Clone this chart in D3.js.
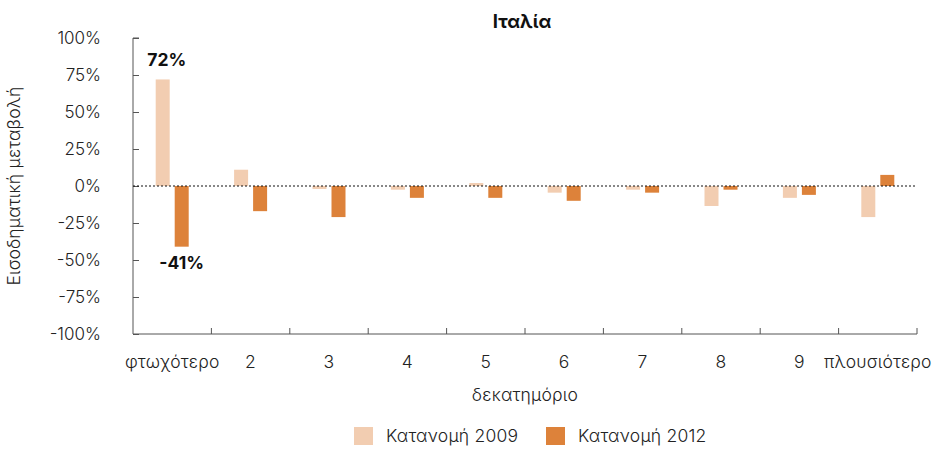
<!DOCTYPE html>
<html>
<head>
<meta charset="utf-8">
<script src="https://cdn.jsdelivr.net/npm/d3@7"></script>
<style>
  body { margin: 0; background: #fff; }
  svg text { font-family: "Inter", "Noto Sans", sans-serif; }
</style>
</head>
<body>
<svg id="chart" width="935" height="450"></svg>
<script>
// Income change by decile, Italy
const categories = ["φτωχότερο", "2", "3", "4", "5", "6", "7", "8", "9", "πλουσιότερο"];
const seriesNames = ["Κατανομή 2009", "Κατανομή 2012"];
const values2009 = [72, 11, -2, -2.5, 2, -4.5, -2.5, -13.5, -8, -21];
const values2012 = [-41, -17, -21, -8, -8, -10, -4.5, -2.5, -6, 7.5];
const yTicks = [-100, -75, -50, -25, 0, 25, 50, 75, 100];
const colors = ["#F2CDB1", "#DD823A"];
const labelled = [{ series: 0, index: 0 }, { series: 1, index: 0 }];

const svg = d3.select("#chart");
const margin = { left: 133, right: 18, top: 38, bottom: 116 };
const W = 935, H = 450;
const textColor = "#222";
const fontSize = 17.5;
const spacing = "0.2px";

const x = d3.scaleBand().domain(categories).range([margin.left, W - margin.right]).padding(0);
const y = d3.scaleLinear().domain([-100, 100]).range([H - margin.bottom, margin.top]);

const barW = 14, gap = 5;
const series = [values2009, values2012];

// Axes
const axisColor = "#555";
const yAxis = svg.append("g")
  .attr("transform", `translate(${margin.left},0)`)
  .call(d3.axisRight(y).tickValues(yTicks).tickSize(6).tickFormat(""));
yAxis.select(".domain").attr("stroke", axisColor).attr("d", `M6,${y(100)}H0V${y(-100)}`);
yAxis.selectAll(".tick line").attr("stroke", axisColor);

svg.append("g").selectAll("text").data(yTicks).join("text")
  .attr("x", 101).attr("y", d => y(d)).attr("dy", "0.35em")
  .attr("text-anchor", "end").attr("font-size", 17).attr("font-weight", 300)
  .attr("fill", textColor).text(d => d + "%");

const bounds = categories.map(c => x(c)).concat([x.range()[1]]).slice(1);
const xAxis = svg.append("g");
xAxis.append("line")
  .attr("x1", margin.left).attr("x2", W - margin.right)
  .attr("y1", y(-100)).attr("y2", y(-100)).attr("stroke", axisColor);
xAxis.selectAll(".tk").data(bounds).join("line").attr("class", "tk")
  .attr("x1", d => d).attr("x2", d => d)
  .attr("y1", y(-100)).attr("y2", y(-100) - 6).attr("stroke", axisColor);

svg.append("g").selectAll("text").data(categories).join("text")
  .attr("x", d => x(d) + x.bandwidth() / 2).attr("y", 368)
  .attr("text-anchor", "middle").attr("font-size", fontSize).attr("font-weight", 300)
  .attr("letter-spacing", spacing)
  .attr("fill", textColor).text(d => d);

// Bars
series.forEach((vals, s) => {
  svg.append("g").selectAll("rect").data(vals).join("rect")
    .attr("x", (d, i) => x(categories[i]) + x.bandwidth() / 2 + (s === 0 ? -gap / 2 - barW : gap / 2))
    .attr("width", barW)
    .attr("y", d => y(Math.max(0, d)))
    .attr("height", d => Math.abs(y(d) - y(0)))
    .attr("fill", colors[s]);
});

// Zero line
svg.append("line")
  .attr("x1", margin.left).attr("x2", W - margin.right)
  .attr("y1", y(0)).attr("y2", y(0))
  .attr("stroke", "#111").attr("stroke-width", 1.2).attr("stroke-dasharray", "2,2");

// Value labels
labelled.forEach(l => {
  const v = series[l.series][l.index];
  const cx = x(categories[l.index]) + x.bandwidth() / 2 + (l.series === 0 ? -gap / 2 - barW / 2 : gap / 2 + barW / 2);
  svg.append("text")
    .attr("x", cx + (l.series === 0 ? 4 : 0))
    .attr("y", v >= 0 ? y(v) - 13 : y(v) + 22)
    .attr("text-anchor", "middle").attr("font-size", 17.5).attr("font-weight", 700)
    .attr("fill", "#111").text(Math.round(v) + "%");
});

// Titles
svg.append("text").attr("x", 522).attr("y", 28).attr("text-anchor", "middle")
  .attr("font-size", 18.5).attr("font-weight", 700).attr("fill", "#111").text("Ιταλία");

svg.append("text").attr("x", (margin.left + W - margin.right) / 2).attr("y", 401)
  .attr("text-anchor", "middle").attr("font-size", fontSize).attr("font-weight", 300)
  .attr("letter-spacing", spacing)
  .attr("fill", textColor).text("δεκατημόριο");

svg.append("text")
  .attr("transform", `translate(20,${y(0)}) rotate(-90)`)
  .attr("text-anchor", "middle").attr("font-size", fontSize).attr("font-weight", 300)
  .attr("letter-spacing", spacing)
  .attr("fill", textColor).text("Εισοδηματική μεταβολή");

// Legend
const legendX = [354, 546];
const lg = svg.append("g").selectAll("g").data(seriesNames).join("g")
  .attr("transform", (d, i) => `translate(${legendX[i]},427)`);
lg.append("rect").attr("width", 19).attr("height", 18).attr("fill", (d, i) => colors[i]);
lg.append("text").attr("x", 32).attr("y", 9).attr("dy", "0.35em")
  .attr("font-size", fontSize).attr("font-weight", 300).attr("letter-spacing", spacing)
  .attr("fill", textColor).text(d => d);
</script>
</body>
</html>
